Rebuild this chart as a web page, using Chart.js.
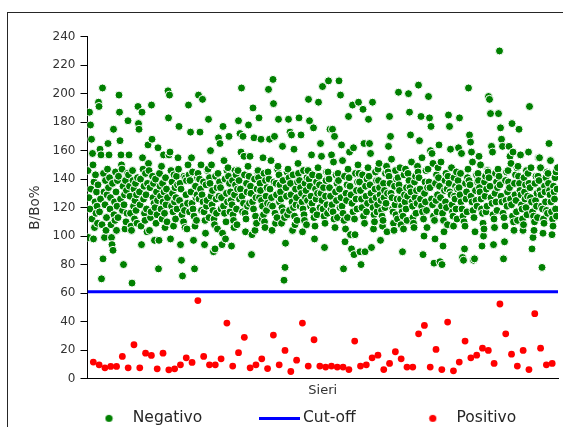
<!DOCTYPE html>
<html>
<head>
<meta charset="utf-8">
<title>B/Bo% sieri</title>
<script src="https://cdn.jsdelivr.net/npm/chart.js@4.4.1/dist/chart.umd.min.js"></script>
<style>
  html, body { margin: 0; padding: 0; background: #fff; }
  #wrap { position: relative; width: 563px; height: 427px; }
</style>
</head>
<body>
<div id="wrap"><canvas id="chart" width="563" height="427"></canvas></div>
<script>
// B/Bo% of the negative sera, in sample order
const negativo = [
  146, 99, 127, 187, 119, 178, 133, 168, 112, 158, 150, 98, 138, 106, 124, 143, 116, 131, 121, 109,
  136, 194, 191, 117, 161, 126, 157, 70, 108, 204, 84, 144, 131, 99, 122, 139, 104, 113, 129, 147,
  165, 134, 157, 141, 119, 127, 108, 99, 94, 137, 90, 175, 115, 124, 111, 145, 131, 104, 121, 139,
  113, 142, 199, 187, 167, 126, 157, 150, 147, 118, 135, 80, 122, 129, 105, 139, 110, 132, 116, 144,
  181, 143, 157, 135, 128, 116, 107, 104, 67, 146, 139, 121, 133, 112, 125, 137, 118, 129, 109, 141,
  191, 179, 175, 131, 122, 140, 107, 94, 187, 155, 147, 126, 135, 116, 111, 144, 129, 119, 103, 137,
  164, 151, 146, 104, 134, 113, 117, 192, 168, 142, 127, 137, 123, 97, 120, 140, 109, 131, 115, 125,
  162, 77, 97, 144, 135, 128, 119, 149, 112, 137, 124, 157, 131, 116, 106, 141, 122, 133, 110, 127,
  202, 183, 157, 199, 159, 98, 146, 121, 138, 130, 117, 107, 143, 124, 134, 112, 127, 142, 119, 136,
  155, 147, 177, 125, 137, 94, 133, 83, 115, 72, 121, 110, 142, 118, 106, 141, 129, 139, 105, 123,
  150, 192, 143, 117, 139, 173, 131, 155, 123, 145, 119, 97, 114, 77, 107, 135, 127, 111, 129, 141,
  144, 199, 126, 140, 173, 133, 150, 118, 129, 196, 124, 138, 117, 94, 111, 102, 136, 121, 125, 146,
  147, 182, 113, 141, 137, 160, 128, 150, 122, 132, 118, 89, 112, 108, 91, 142, 126, 116, 134, 105,
  144, 169, 128, 138, 165, 134, 119, 127, 94, 102, 177, 121, 153, 116, 140, 98, 110, 130, 146, 124,
  148, 142, 170, 137, 117, 131, 125, 93, 122, 139, 115, 111, 106, 129, 146, 136, 143, 119, 108, 133,
  146, 181, 139, 126, 172, 133, 159, 204, 128, 117, 170, 123, 156, 143, 116, 103, 112, 137, 131, 121,
  149, 178, 142, 123, 156, 135, 130, 87, 101, 124, 190, 119, 169, 140, 104, 114, 127, 109, 133, 145,
  146, 141, 183, 127, 137, 132, 168, 125, 112, 121, 155, 115, 144, 110, 106, 139, 128, 118, 134, 123,
  145, 203, 140, 168, 133, 122, 153, 127, 104, 121, 210, 193, 138, 170, 116, 109, 137, 129, 113, 147,
  149, 182, 143, 124, 136, 131, 126, 109, 120, 163, 139, 117, 69, 113, 78, 95, 134, 128, 145, 115,
  147, 182, 141, 118, 173, 137, 129, 171, 124, 104, 143, 120, 161, 114, 108, 133, 122, 127, 111, 138,
  151, 144, 183, 139, 121, 134, 171, 130, 124, 103, 119, 146, 115, 111, 137, 127, 132, 108, 141, 125,
  146, 196, 140, 181, 135, 121, 128, 157, 123, 143, 118, 176, 113, 98, 107, 133, 126, 138, 115, 130,
  148, 194, 142, 136, 120, 165, 130, 156, 125, 205, 119, 134, 114, 92, 109, 128, 139, 145, 122, 116,
  145, 209, 140, 134, 175, 128, 119, 157, 122, 175, 117, 152, 112, 170, 106, 131, 143, 125, 137, 113,
  144, 139, 209, 133, 120, 199, 127, 164, 121, 153, 116, 77, 111, 142, 96, 105, 130, 125, 136, 113,
  147, 184, 141, 159, 135, 101, 129, 91, 123, 192, 117, 162, 87, 112, 101, 144, 126, 132, 119, 138,
  150, 194, 144, 138, 89, 132, 80, 126, 120, 143, 189, 114, 165, 109, 89, 135, 128, 117, 140, 123,
  148, 182, 142, 165, 136, 158, 130, 92, 125, 194, 120, 105, 115, 110, 133, 145, 127, 139, 117, 122,
  147, 139, 151, 134, 129, 97, 125, 118, 114, 107, 111, 137, 127, 132, 120, 144, 123, 149, 103, 130,
  145, 163, 142, 184, 137, 170, 130, 154, 127, 119, 117, 109, 104, 135, 122, 146, 115, 140, 126, 112,
  141, 201, 136, 132, 148, 126, 108, 121, 117, 89, 114, 105, 143, 129, 124, 147, 119, 134, 111, 128,
  144, 200, 139, 187, 134, 171, 131, 152, 124, 121, 113, 109, 106, 138, 127, 142, 116, 132, 123, 149,
  145, 206, 141, 167, 133, 126, 184, 121, 155, 117, 87, 112, 100, 130, 138, 124, 146, 118, 106, 134,
  147, 198, 138, 183, 134, 160, 177, 126, 158, 122, 151, 114, 81, 111, 98, 137, 125, 143, 117, 129,
  148, 141, 164, 135, 82, 127, 152, 121, 80, 116, 93, 111, 103, 132, 139, 124, 144, 120, 133, 108,
  142, 185, 137, 177, 131, 161, 129, 148, 122, 117, 114, 107, 141, 128, 126, 135, 119, 145, 112, 133,
  139, 162, 134, 183, 129, 144, 124, 158, 119, 85, 114, 83, 110, 91, 107, 137, 126, 131, 117, 141,
  147, 204, 139, 171, 136, 166, 128, 159, 124, 152, 118, 83, 113, 84, 103, 132, 125, 143, 121, 138,
  144, 139, 156, 134, 131, 150, 126, 119, 93, 116, 109, 100, 105, 138, 128, 142, 117, 133, 121, 146,
  145, 198, 141, 196, 135, 186, 127, 163, 123, 159, 115, 94, 112, 106, 130, 144, 124, 138, 118, 134,
  147, 186, 142, 230, 136, 176, 128, 168, 124, 163, 116, 84, 113, 96, 107, 139, 125, 145, 121, 131,
  146, 138, 163, 134, 156, 126, 151, 122, 179, 114, 159, 110, 104, 137, 129, 143, 125, 117, 148, 111,
  149, 142, 175, 137, 132, 157, 129, 122, 119, 112, 104, 108, 141, 131, 126, 136, 120, 146, 115, 128,
  144, 159, 137, 191, 134, 127, 148, 124, 91, 117, 99, 114, 104, 110, 137, 125, 142, 121, 130, 113,
  142, 155, 139, 155, 132, 148, 129, 121, 78, 119, 102, 112, 109, 135, 131, 124, 141, 118, 145, 116,
  144, 137, 165, 132, 129, 153, 124, 117, 101, 112, 107, 135, 131, 126, 141, 119, 145, 114, 133, 148
];

// B/Bo% of the positive sera, in sample order
const positivo = [
  11.5, 9.6, 7.5, 8.5, 8.5, 15.5, 7.5, 23.7, 7.5, 17.8,
  16.2, 6.8, 17.8, 6.1, 6.8, 9.6, 14.5, 11.3, 54.7, 15.5,
  9.6, 9.6, 13.8, 38.9, 8.7, 18.1, 28.9, 7.5, 9.6, 13.8,
  7.0, 30.5, 9.6, 19.7, 4.9, 12.9, 38.9, 8.7, 27.2, 8.7,
  8, 8.7, 8, 8, 6.3, 26.3, 8.7, 9.6, 14.5, 16.4,
  6.3, 10.6, 18.8, 13.8, 8, 8, 31.4, 37.3, 8, 20.4,
  6.3, 39.6, 5.4, 11.5, 26.3, 14.5, 16.4, 21.3, 19.7, 10.6,
  52.3, 31.4, 17.1, 8.7, 19.7, 6.3, 45.5, 21.3, 9.6, 10.6
];

const cutoff = 61;
const seriesNames = ['Negativo', 'Cut-off', 'Positivo'];

const GREEN = '#008000';
const BLUE = '#0000ff';
const RED = '#ff0000';
const TEXT = '#333333';

// x ranges of the two hidden sample axes
const negMax = 941;
const posMax = 81;

Chart.defaults.font.family = "'DejaVu Sans', sans-serif";

// little canvases used as legend symbols
const makeDot = (color) => {
  const c = document.createElement('canvas');
  c.width = 9;
  c.height = 9;
  const ctx = c.getContext('2d');
  ctx.fillStyle = color;
  ctx.beginPath();
  ctx.arc(4.5, 4.5, 3.6, 0, Math.PI * 2);
  ctx.fill();
  return c;
};

const makeLine = (color) => {
  const c = document.createElement('canvas');
  c.width = 41;
  c.height = 3;
  const ctx = c.getContext('2d');
  ctx.fillStyle = color;
  ctx.fillRect(0, 0, 41, 3);
  return c;
};

const legendMarks = [makeDot(GREEN), makeLine(BLUE), makeDot(RED)];

// outer frame of the chart object
const frame = {
  id: 'frame',
  beforeDraw(chart) {
    const {ctx} = chart;
    ctx.save();
    ctx.strokeStyle = '#262626';
    ctx.lineWidth = 1;
    ctx.strokeRect(7.5, 12.5, 620, 480);
    ctx.restore();
  }
};

// the legend sits a bit right of centre and just under the axis title
const legendShift = {
  id: 'legendShift',
  afterLayout(chart) {
    chart.legend.left += 32;
    chart.legend.right += 32;
    chart.legend.top -= 52;
  }
};

new Chart(document.getElementById('chart'), {
  type: 'scatter',
  data: {
    datasets: [
      {
        label: seriesNames[0],
        data: negativo.map((v, i) => ({x: i + 1, y: v})),
        xAxisID: 'x',
        backgroundColor: GREEN,
        borderColor: '#ffffff',
        borderWidth: 1,
        pointRadius: 4
      },
      {
        label: seriesNames[1],
        type: 'line',
        data: [{x: 0, y: cutoff}, {x: negMax, y: cutoff}],
        xAxisID: 'x',
        borderColor: BLUE,
        borderWidth: 3,
        pointRadius: 0
      },
      {
        label: seriesNames[2],
        data: positivo.map((v, i) => ({x: i + 1, y: v})),
        xAxisID: 'x2',
        backgroundColor: RED,
        borderWidth: 0,
        pointRadius: 3.4
      }
    ]
  },
  options: {
    responsive: false,
    animation: false,
    layout: {padding: {top: 36.7, right: 5, bottom: 0, left: 0}},
    scales: {
      x: {
        type: 'linear',
        min: 0,
        max: negMax,
        ticks: {display: false},
        grid: {display: false, drawTicks: false},
        border: {display: true, color: '#000'},
        title: {display: true, text: 'Sieri', color: TEXT, font: {size: 13}, padding: {top: 4.5, bottom: 3}}
      },
      x2: {
        type: 'linear',
        display: false,
        min: 0,
        max: posMax
      },
      y: {
        min: 0,
        max: 240,
        ticks: {stepSize: 20, color: TEXT, font: {size: 12}, padding: 5},
        grid: {display: true, drawOnChartArea: false, drawTicks: true, tickLength: 7, color: '#000'},
        border: {display: true, color: '#000'},
        title: {display: true, text: 'B/Bo%', color: TEXT, font: {size: 13.5}, padding: {top: 27, bottom: 0}},
        afterFit: (scale) => { scale.width = 87.5; }
      }
    },
    plugins: {
      tooltip: {enabled: false},
      legend: {
        position: 'bottom',
        align: 'start',
        maxHeight: 25.4,
        labels: {
          usePointStyle: true,
          pointStyleWidth: 32,
          padding: 61,
          color: '#262626',
          font: {size: 15.5},
          generateLabels: (chart) => Chart.defaults.plugins.legend.labels.generateLabels(chart)
            .map((item, i) => ({...item, pointStyle: legendMarks[i]}))
        }
      }
    }
  },
  plugins: [frame, legendShift]
});
</script>
</body>
</html>
